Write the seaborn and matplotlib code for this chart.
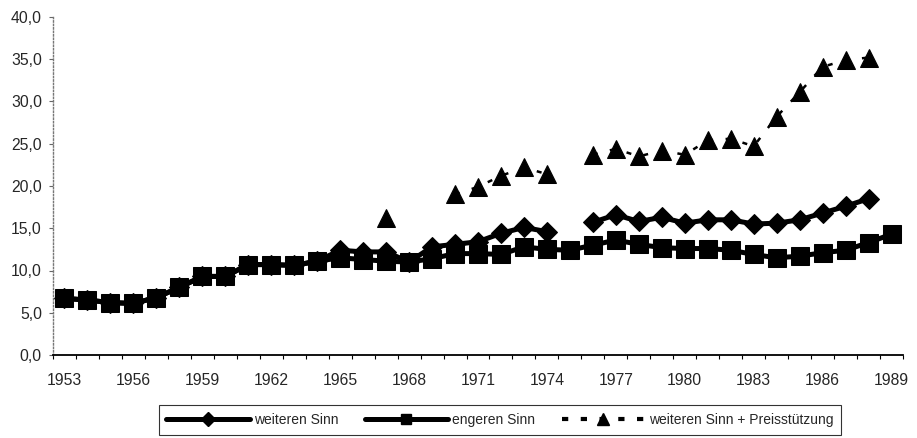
import numpy as np
import pandas as pd
import matplotlib
matplotlib.use("Agg")
import matplotlib.pyplot as plt
from matplotlib.lines import Line2D
from matplotlib.ticker import FuncFormatter, FixedLocator
import seaborn as sns

years = list(range(1953, 1990))
nan = np.nan
weiteren = [6.7, 6.5, 6.2, 6.1, 6.8, 8.0, 9.3, 9.3, 10.7, 10.7, 10.6, 11.1,
            12.4, 12.2, 12.2, 11.0, 12.8, 13.1, 13.4, 14.4, 15.1, 14.6, nan,
            15.7, 16.6, 15.8, 16.3, 15.6, 16.0, 16.0, 15.5, 15.6, 16.0, 16.8,
            17.6, 18.5, nan]
engeren = [6.7, 6.5, 6.2, 6.1, 6.8, 8.0, 9.3, 9.3, 10.7, 10.7, 10.6, 11.1,
           11.5, 11.3, 11.1, 11.0, 11.4, 12.0, 12.0, 11.9, 12.8, 12.5, 12.4,
           13.0, 13.6, 13.1, 12.7, 12.6, 12.6, 12.4, 11.9, 11.5, 11.7, 12.1,
           12.4, 13.3, 14.3]
preis = [nan, nan, nan, nan, nan, nan, nan, nan, nan, nan, nan, nan,
         nan, nan, 16.2, nan, nan, 19.0, 19.9, 21.2, 22.2, 21.4, nan,
         23.7, 24.4, 23.5, 24.2, 23.7, 25.4, 25.6, 24.7, 28.2, 31.1, 34.1,
         34.9, 35.2, nan]
labels = ["weiteren Sinn", "engeren Sinn", "weiteren Sinn + Preisstützung"]

sns.set_style("white")
plt.rcParams["font.family"] = ["Liberation Sans", "DejaVu Sans"]

W, H = 917, 438
fig = plt.figure(figsize=(W / 100, H / 100), dpi=100)
ax = fig.add_axes([53 / W, 1 - 355 / H, 850 / W, 338 / H])

pos = np.arange(len(years))


def frame(vals):
    s = pd.Series(vals, dtype=float)
    d = pd.DataFrame({"x": pos, "y": s, "seg": s.isna().cumsum()})
    return d.dropna()


styles = [
    dict(marker="D", markersize=10, linewidth=3.6, linestyle="-"),
    dict(marker="s", markersize=12.5, linewidth=3.6, linestyle="-"),
    dict(marker="^", markersize=13.5, linewidth=1.8, linestyle=(0, (2, 5))),
]
for vals, st in zip([weiteren, engeren, preis], styles):
    d = frame(vals)
    sns.lineplot(data=d, x="x", y="y", units="seg", estimator=None,
                 color="black", markeredgecolor="black", ax=ax, legend=False,
                 **st)

ax.set_xlim(-0.5, len(years) - 0.5)
ax.set_ylim(0, 40)
ax.set_xticks(pos[::3])
ax.set_xticklabels([str(y) for y in years[::3]])
ax.xaxis.set_minor_locator(FixedLocator(np.arange(-0.5, len(years), 1)))
ax.set_yticks(np.arange(0, 41, 5))
ax.yaxis.set_major_formatter(FuncFormatter(lambda v, p: f"{v:.1f}".replace(".", ",")))
ax.set_xlabel("")
ax.set_ylabel("")
ax.tick_params(axis="x", which="major", length=0, pad=13, labelsize=11.3)
ax.tick_params(axis="x", which="minor", length=3, color="black", width=0.8, direction="out", bottom=True)
ax.tick_params(axis="y", length=3, width=0.8, color="#666666", pad=5, labelsize=11.3, left=True)
for s in ["top", "right"]:
    ax.spines[s].set_visible(False)
ax.spines["bottom"].set_color("black")
ax.spines["bottom"].set_linewidth(1.3)
ax.spines["left"].set_color("#777777")
ax.spines["left"].set_linewidth(1.0)
ax.spines["left"].set_linestyle((0, (1, 1.5)))

handles = [
    Line2D([], [], color="black", lw=3.6, marker="D", markersize=7),
    Line2D([], [], color="black", lw=3.6, marker="s", markersize=7),
    Line2D([], [], color="black", lw=3.0, marker="^", markersize=8, linestyle=(0, (1.5, 3))),
]
leg = fig.legend(handles, labels, loc="center",
                 bbox_to_anchor=(500 / W, 1 - 420 / H),
                 ncol=3, frameon=True, fancybox=False, fontsize=10,
                 handlelength=6, columnspacing=1.9, handletextpad=0.3,
                 borderpad=0.55, borderaxespad=0)
leg.get_frame().set_edgecolor("black")
leg.get_frame().set_linewidth(0.8)

fig.savefig("out.png", dpi=100)
